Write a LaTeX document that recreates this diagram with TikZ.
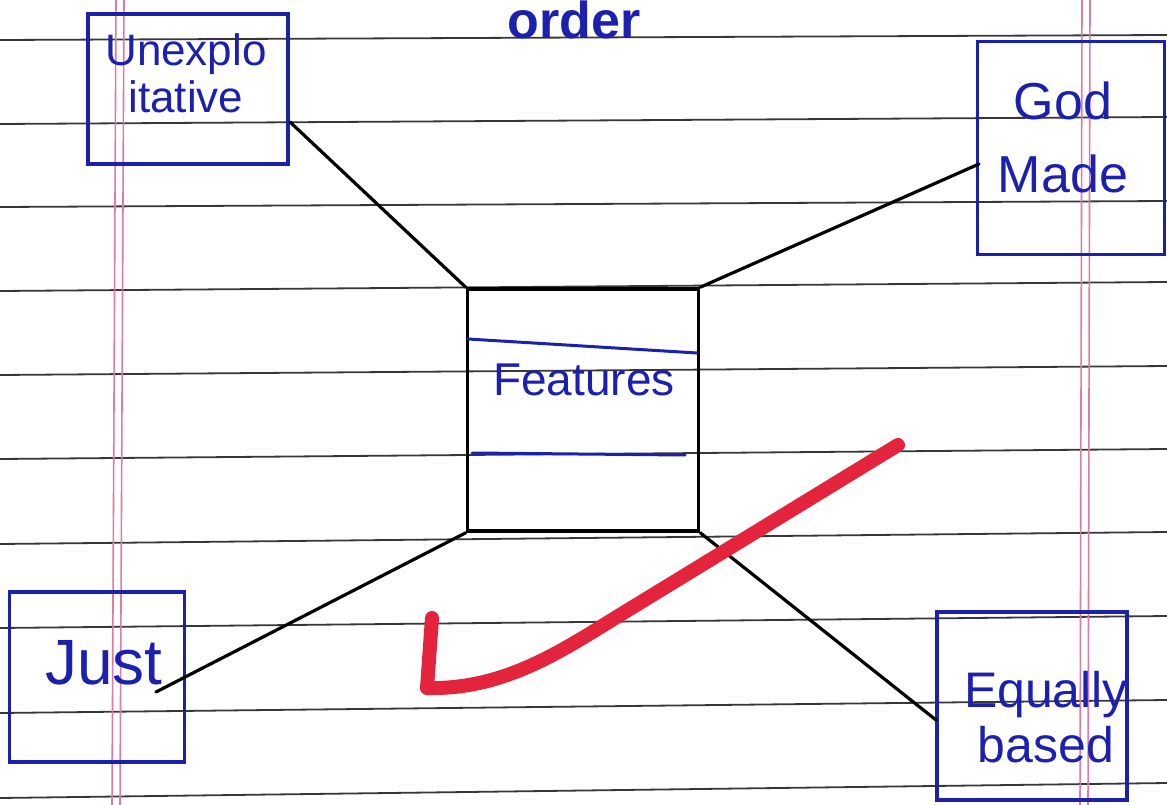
\documentclass[tikz,border=0pt]{standalone}
\usepackage{fontspec}
\setmainfont{Liberation Sans}
\definecolor{ink}{RGB}{28,32,175}
\definecolor{rule}{RGB}{55,55,55}
\definecolor{margin}{RGB}{225,120,165}
\definecolor{tick}{RGB}{228,36,60}
\tikzset{
  paperline/.style={draw=rule, line width=1.8pt},
  marginline/.style={draw=margin, line width=1.6pt},
  bluebox/.style={draw=ink, line width=3.4pt, rectangle, inner sep=0pt},
  featbox/.style={draw=black, line width=3.6pt, rectangle, inner sep=0pt},
  handtext/.style={text=ink, align=center, inner sep=0pt},
  link/.style={draw=black, line width=3.2pt, line cap=round},
  inkline/.style={draw=ink, line width=3pt, line cap=round},
  checkmark/.style={draw=tick, line width=14pt, line cap=round, line join=round}
}
\begin{document}
\begin{tikzpicture}[x=1pt, y=-1pt]
\useasboundingbox (0,0) rectangle (1167,805);
\fill[white] (0,0) rectangle (1167,805);
% ruled paper
\foreach \l/\r in {40/35,124/117,207/201,291/282,375/366,459/449,544/532,628/616,713/700,798/783}
  \draw[paperline] (0,\l) -- (1167,\r);
\draw[marginline] (116,0) -- (112,805);
\draw[marginline] (124,0) -- (120,805);
\draw[marginline] (1082,0) -- (1080,805);
\draw[marginline] (1090,0) -- (1088,805);
% title
\node[handtext, anchor=north, font=\fontsize{52}{52}\selectfont\bfseries] (title) at (574,1) {order};
% central box
\node[featbox, minimum width=231pt, minimum height=242pt] (feat) at (583,410) {};
\node[handtext, font=\fontsize{46}{46}\selectfont] (feattxt) at (584,380) {Features};
\draw[inkline] (468,339) -- (697,353);
\draw[inkline] (472,453) -- (685,455);
% outer boxes
\node[bluebox, minimum width=200pt, minimum height=150pt] (unexbox) at (188,89) {};
\node[handtext, font=\fontsize{44}{47}\selectfont] (unextxt) at (186,73) {Unexplo\\itative};
\node[bluebox, minimum width=187pt, minimum height=213pt] (godbox) at (1071,148) {};
\node[handtext, font=\fontsize{52}{73}\selectfont] (godtxt) at (1063,137) {God\\Made};
\node[bluebox, minimum width=175pt, minimum height=170pt] (justbox) at (97,677) {};
\node[handtext, font=\fontsize{64}{64}\selectfont] (justtxt) at (104,663) {Just};
\node[bluebox, minimum width=190pt, minimum height=188pt] (eqbox) at (1032,706) {};
\node[handtext, font=\fontsize{50}{55}\selectfont] (eqtxt) at (1046,717) {Equally\\based};
% connector ends
\coordinate (unexend) at (290,122);
\coordinate (godend) at (979,164);
\coordinate (justend) at (156,692);
\coordinate (eqend) at (936,720);
\draw[link] (feat.north west) -- (unexend);
\draw[link] (feat.north east) -- (godend);
\draw[link] (feat.south west) -- (justend);
\draw[link] (feat.south east) -- (eqend);
% red tick
\draw[checkmark] (432,618) -- (427,688) .. controls (510,690) and (570,645) .. (633,607) -- (898,445);
\end{tikzpicture}
\end{document}
